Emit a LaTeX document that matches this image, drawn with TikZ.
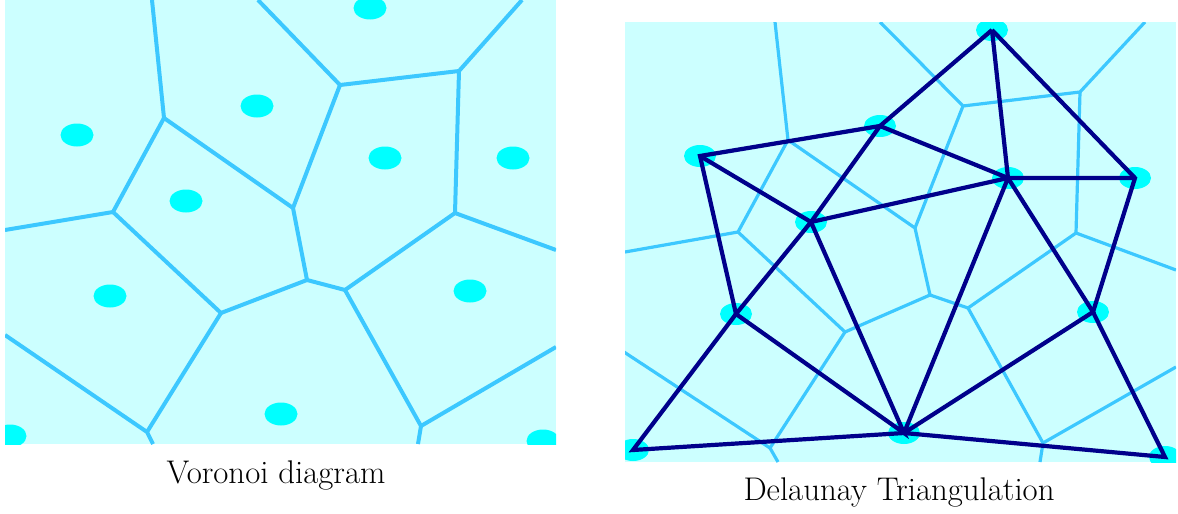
\documentclass[tikz,border=0pt]{standalone}
\usetikzlibrary{positioning}
\definecolor{cellfill}{RGB}{204,255,255}
\definecolor{cellline}{RGB}{60,200,255}
\definecolor{sitedot}{RGB}{0,255,255}
\definecolor{deledge}{RGB}{0,0,139}

\begin{document}
\begin{tikzpicture}[x=0.5pt, y=-0.5pt,
		vedge/.style={cellline, line width=2pt},
		thinvedge/.style={cellline, line width=1.6pt},
		dedge/.style={deledge, line width=2.1pt},
		caption/.style={anchor=base, font=\fontsize{16.4}{19}\selectfont}]
	\useasboundingbox (0,0) rectangle (1178,514);

	% Voronoi diagram
	\begin{scope}
		\clip (5,0) rectangle (556,444);
		\fill[cellfill] (5,0) rectangle (556,444);
		\foreach \p in {(370,8),(257,106),(77,135),(186,201),(385,158),(513,158),
			(110,296),(470,291),(281,414),(10,436),(543,441)}
			\fill[sitedot] \p ellipse [x radius=16.5, y radius=11.5];
		\coordinate (A) at (164,118); \coordinate (B) at (113,212);
		\coordinate (C) at (221,313); \coordinate (D) at (293,208);
		\coordinate (E) at (340,85);  \coordinate (F) at (459,71);
		\coordinate (G) at (455,213); \coordinate (H) at (345,290);
		\coordinate (I) at (307,280); \coordinate (J) at (147,432);
		\coordinate (K) at (421,426);
		\draw[vedge] (152,0) -- (A) -- (B) -- (5,230);
		\draw[vedge] (B) -- (C) -- (I) -- (D) -- (A);
		\draw[vedge] (258,0) -- (E) -- (D);
		\draw[vedge] (E) -- (F) -- (522,0);
		\draw[vedge] (F) -- (G) -- (556,250);
		\draw[vedge] (G) -- (H) -- (I);
		\draw[vedge] (5,335) -- (J) -- (153,444);
		\draw[vedge] (C) -- (J);
		\draw[vedge] (H) -- (K) -- (418,444);
		\draw[vedge] (K) -- (556,347);
	\end{scope}
	\node[caption] (vcap) at (276,483) {Voronoi diagram};

	% Delaunay triangulation over the Voronoi cells
	\begin{scope}
		\clip (625,22) rectangle (1176,462);
		\fill[cellfill] (625,22) rectangle (1176,462);
		\coordinate (V1) at (788,140);  \coordinate (V2) at (738,232);
		\coordinate (V3) at (963,106);  \coordinate (V4) at (1080,92);
		\coordinate (V5) at (1076,233); \coordinate (V6) at (915,228);
		\coordinate (V7) at (930,295);  \coordinate (V8) at (845,332);
		\coordinate (V9) at (968,308);  \coordinate (V11) at (1043,443);
		\coordinate (V12) at (770,448);
		\draw[thinvedge] (775,22) -- (V1) -- (V2) -- (625,252);
		\draw[thinvedge] (V1) -- (V6) -- (V7) -- (V8) -- (V2);
		\draw[thinvedge] (880,22) -- (V3) -- (V4) -- (1145,22);
		\draw[thinvedge] (V3) -- (V6);
		\draw[thinvedge] (V4) -- (V5) -- (1176,270);
		\draw[thinvedge] (V5) -- (V9) -- (V7);
		\draw[thinvedge] (V9) -- (V11) -- (1040,462);
		\draw[thinvedge] (V11) -- (1176,367);
		\draw[thinvedge] (V8) -- (V12) -- (624,352);
		\draw[thinvedge] (V12) -- (778,462);
		\coordinate (P1) at (992,30);   \coordinate (P2) at (880,126);
		\coordinate (P3) at (700,156);  \coordinate (P4) at (1008,178);
		\coordinate (P5) at (1135,178); \coordinate (P6) at (811,222);
		\coordinate (P7) at (736,314);  \coordinate (P8) at (1093,312);
		\coordinate (P9) at (904,433);  \coordinate (P10) at (633,450);
		\coordinate (P11) at (1165,457);
		\foreach \name in {P1,P2,P3,P4,P5,P6,P7,P8,P9,P10,P11}
			\fill[sitedot] (\name) ellipse [x radius=16, y radius=11];
		\draw[dedge] (P1) -- (P2) -- (P3) -- (P7) -- (P10) -- (P9) -- (P11) -- (P8) -- (P5) -- (P1);
		\draw[dedge] (P1) -- (P4) -- (P5);
		\draw[dedge] (P2) -- (P4) -- (P6) -- (P2);
		\draw[dedge] (P3) -- (P6) -- (P7) -- (P9) -- (P6);
		\draw[dedge] (P9) -- (P4) -- (P8) -- (P9);
	\end{scope}
	\node[caption] (dcap) at (899,500) {Delaunay Triangulation};
\end{tikzpicture}
\end{document}
